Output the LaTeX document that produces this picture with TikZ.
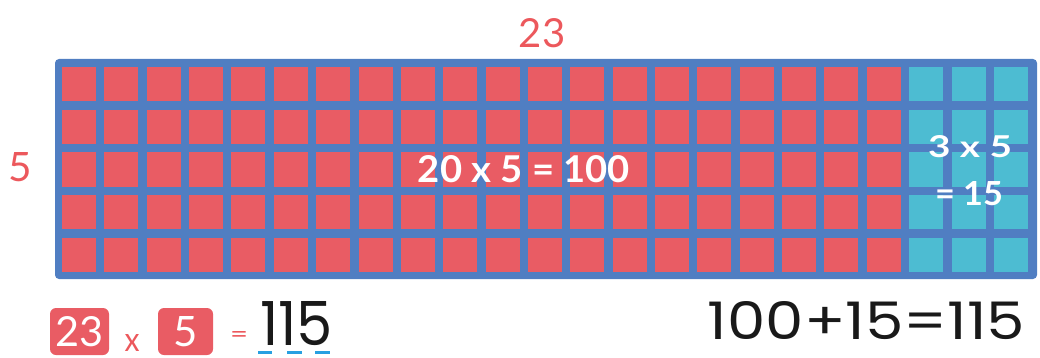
\documentclass[tikz,border=0pt]{standalone}
\usepackage{fontspec}
\usepackage{graphicx}
\setmainfont{Poppins}
\newfontfamily\thinfont{Lato}
\definecolor{frameblue}{RGB}{80,126,194}
\definecolor{cellred}{RGB}{233,92,100}
\definecolor{cellcyan}{RGB}{77,188,210}
\definecolor{labelred}{RGB}{236,88,92}
\definecolor{dashblue}{RGB}{40,160,225}
\definecolor{inkblack}{RGB}{25,25,25}
\tikzset{
  thinlabel/.style={text=labelred, inner sep=0pt, font=\thinfont},
  whitelabel/.style={text=white, inner sep=0pt, font=\thinfont\bfseries},
  redbox/.style={fill=cellred, rounded corners=6pt, text=white, inner sep=0pt, font=\thinfont},
  handlabel/.style={text=inkblack, inner sep=0pt},
  digitdash/.style={draw=dashblue, line width=3pt}
}
\begin{document}
\begin{tikzpicture}[x=1pt,y=-1pt]
\useasboundingbox (0,0) rectangle (1040,358);
% frame
\fill[frameblue, rounded corners=4pt] (55,59) rectangle (1037,279);
% red cells
\foreach \i in {0,...,19} \foreach \j in {0,...,4} {
  \pgfmathsetmacro\xx{62+\i*42.36}
  \pgfmathsetmacro\yy{67+\j*42.75}
  \fill[cellred] (\xx,\yy) rectangle ++(34,34);
}
% cyan cells
\foreach \i in {20,21,22} \foreach \j in {0,...,4} {
  \pgfmathsetmacro\xx{62+\i*42.36}
  \pgfmathsetmacro\yy{67+\j*42.75}
  \fill[cellcyan] (\xx,\yy) rectangle ++(34,34);
}
% labels
\node[thinlabel] (top) at (542,33) {\resizebox{!}{29pt}{23}};
\node[thinlabel] (left) at (20,167) {\resizebox{!}{29pt}{5}};
\node[whitelabel] (big) at (524,169) {\resizebox{212pt}{27pt}{20 x 5 = 100}};
\node[whitelabel] (small1) at (970,147) {\resizebox{84pt}{22pt}{3 x 5}};
\node[whitelabel] (small2) at (969,194) {\resizebox{68pt}{24pt}{= 15}};
% bottom left
\node[redbox, minimum width=59pt, minimum height=47pt] (b23) at (79.5,331.5) {\resizebox{!}{30pt}{23}};
\node[thinlabel] (times) at (132,343) {\resizebox{15pt}{17pt}{x}};
\node[redbox, minimum width=55pt, minimum height=47pt] (b5) at (185.5,331.5) {\resizebox{!}{30pt}{5}};
\node[thinlabel] (eq) at (239,337) {\resizebox{18pt}{11pt}{=}};
\node[handlabel] (res) at (296.5,323.5) {\resizebox{73pt}{44pt}{115}};
\draw[digitdash] (258,352) -- (272,352);
\draw[digitdash] (287,352) -- (302,352);
\draw[digitdash] (315,352) -- (330,352);
% bottom right
\node[handlabel] (sum) at (866.5,321) {\resizebox{317pt}{38pt}{100+15=115}};
\end{tikzpicture}
\end{document}
